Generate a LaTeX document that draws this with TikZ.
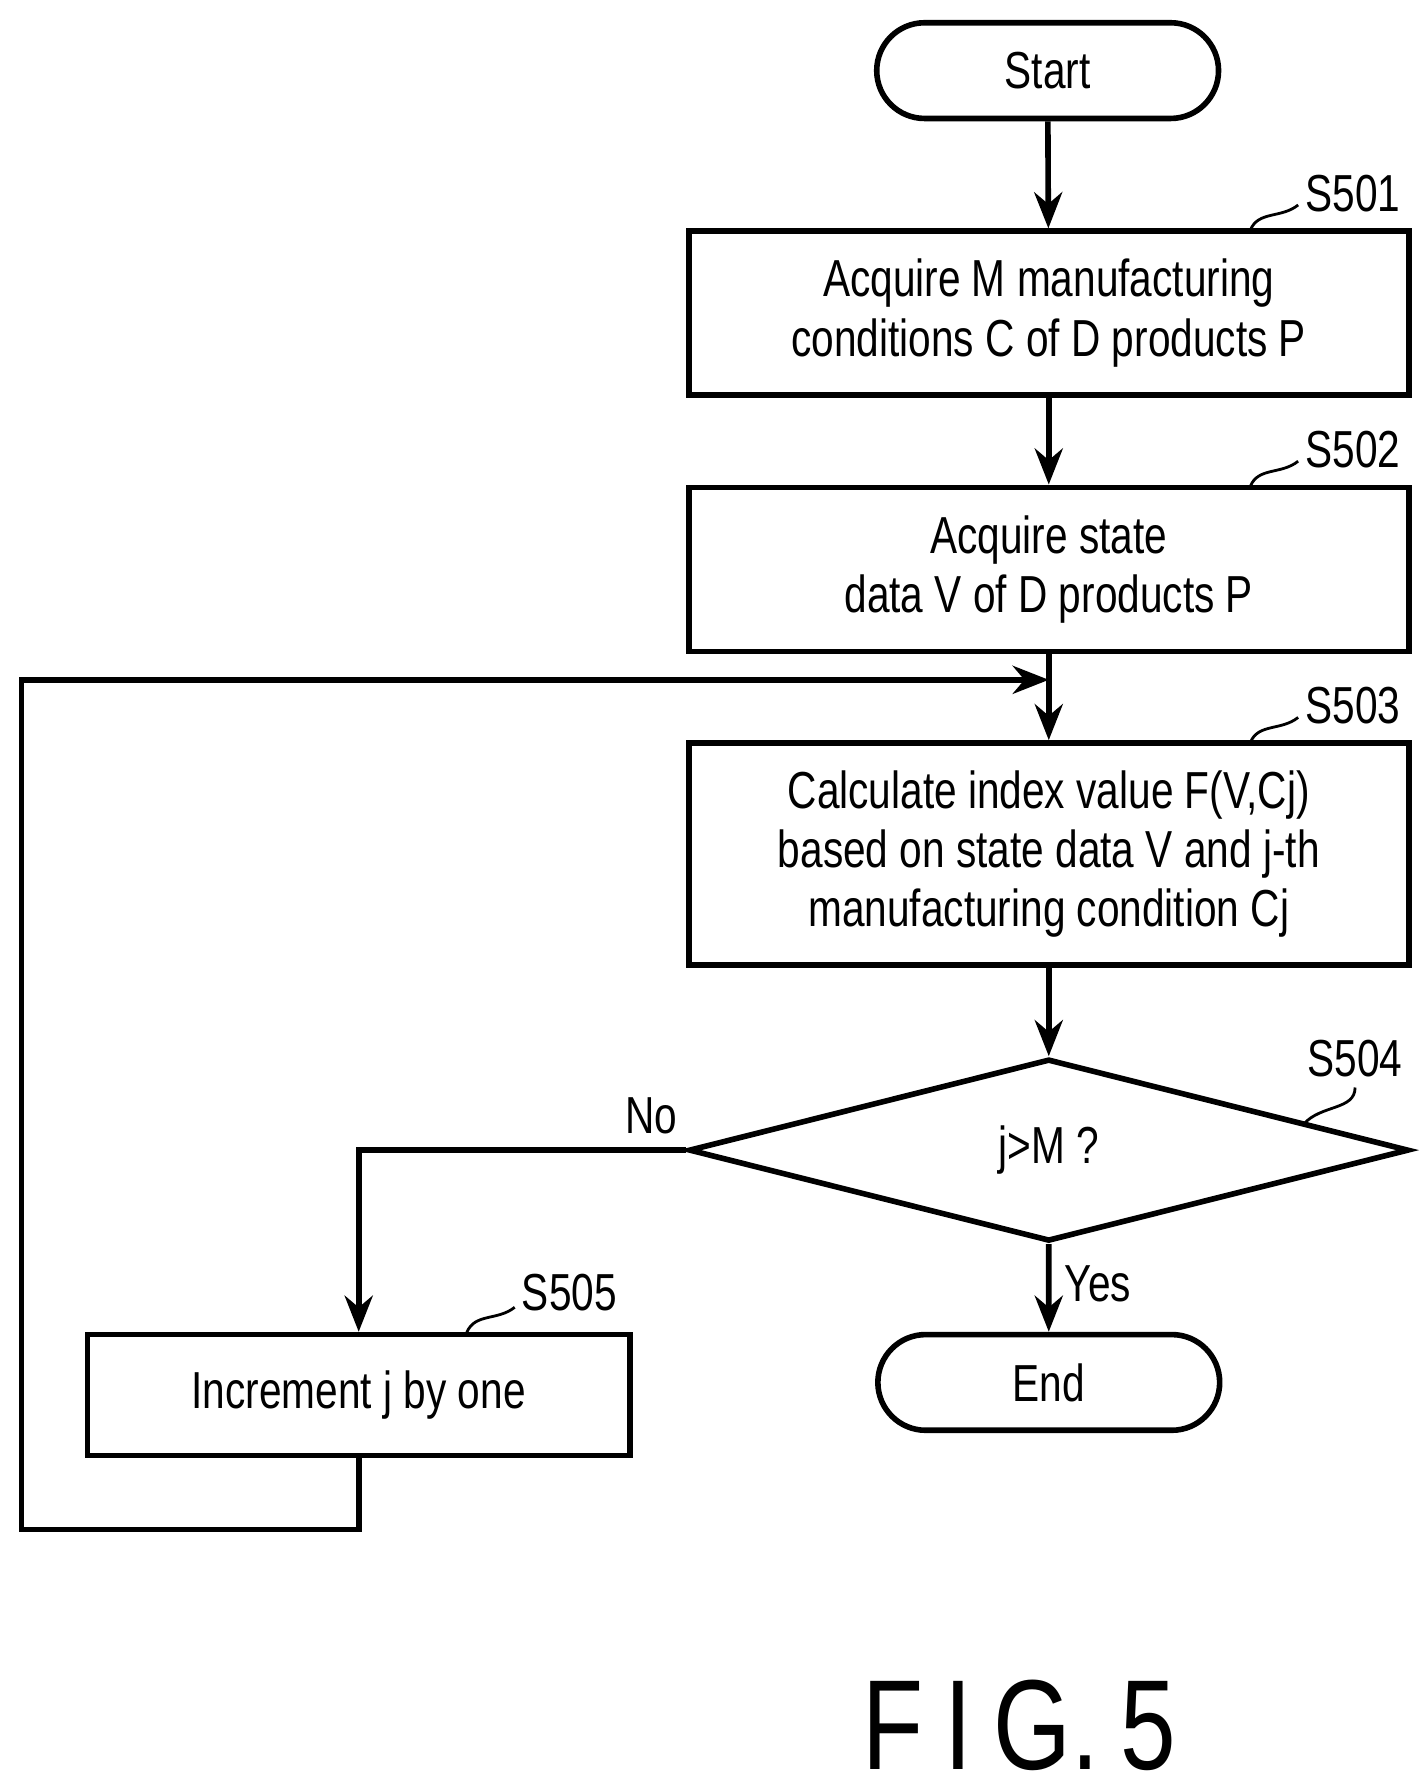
\documentclass[tikz,border=0pt]{standalone}
\usepackage{fontspec}
\setmainfont[FakeStretch=0.78]{Liberation Sans}
\usetikzlibrary{shapes.geometric,shapes.misc,arrows.meta}
\begin{document}
\begin{tikzpicture}[x=0.01cm,y=-0.01cm,line width=1.4pt,
  box/.style={draw,rectangle,minimum width=6.32cm,inner sep=0pt,align=center,font=\fontsize{13}{14.8}\selectfont},
  term/.style={draw,rounded rectangle,minimum width=3cm,minimum height=0.84cm,inner sep=0pt,font=\fontsize{13}{15}\selectfont},
  lab/.style={font=\fontsize{13}{15}\selectfont},
  arr/.style={-{Stealth[length=9pt,width=7pt]}},
  sq/.style={line width=0.7pt}]
\useasboundingbox (0,0) rectangle (1250,1557);
\node[term] (start) at (920,62) {Start};
\node[box,minimum height=1.44cm] (s1) at (921,275) {Acquire M manufacturing\\conditions C of D products P};
\node[box,minimum height=1.44cm] (s2) at (921,500) {Acquire state\\data V of D products P};
\node[box,minimum height=1.95cm] (s3) at (921,750) {Calculate index value F(V,Cj)\\based on state data V and j-th\\manufacturing condition Cj};
\node[draw,diamond,aspect=3.95,minimum width=6.32cm,minimum height=1.6cm,inner sep=0pt,lab] (d) at (921,1010) {j>M ?};
\node[term] (end) at (921,1214) {End};
\node[draw,rectangle,minimum width=4.76cm,minimum height=1.06cm,inner sep=0pt,lab] (s5) at (315,1225) {Increment j by one};
\coordinate (m) at (921,597);
\coordinate (c1) at (315,1343);
\coordinate (c2) at (19,1343);
\coordinate (c3) at (19,597);
\coordinate (n1) at (315,1010);
\draw[arr] (start) -- (s1);
\draw[arr] (s1) -- (s2);
\draw (s2) -- (m);
\draw[arr] (m) -- (s3);
\draw[arr] (s3) -- (d);
\draw[arr] (d) -- node[right,lab,pos=0.45]{Yes} (end);
\draw[arr] (d.west) -- (n1) -- (s5.north);
\node[lab] (no) at (572,980) {No};
\draw[arr] (s5.south) -- (c1) -- (c2) -- (c3) -- (m);
\node[lab] (l1) at (1188,170) {S501};
\node[lab] (l2) at (1188,395) {S502};
\node[lab] (l3) at (1188,620) {S503};
\node[lab] (l4) at (1190,930) {S504};
\node[lab] (l5) at (500,1135) {S505};
\draw[sq] (1098,202) .. controls (1105,185) and (1125,192) .. (1140,180);
\draw[sq] (1098,427) .. controls (1105,410) and (1125,417) .. (1140,405);
\draw[sq] (1098,652) .. controls (1105,635) and (1125,642) .. (1140,630);
\draw[sq] (1145,987) .. controls (1160,970) and (1190,975) .. (1190,955);
\draw[sq] (410,1170) .. controls (417,1153) and (437,1160) .. (452,1148);
\node[font=\fontsize{32}{36}\selectfont] (fig) at (895,1515) {F\,I\,G.\,5};
\end{tikzpicture}
\end{document}
